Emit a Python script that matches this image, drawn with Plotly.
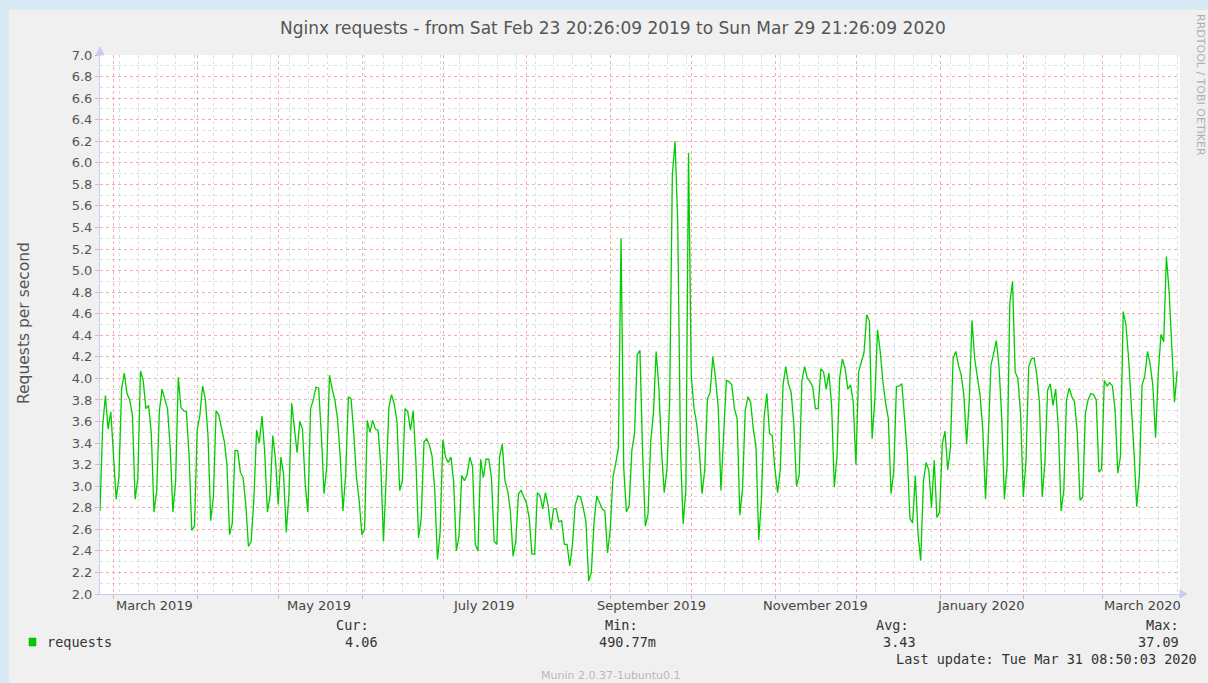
import plotly.graph_objects as go
import pandas as pd

# ---------------- data (daily averages) ----------------
TITLE = "Nginx requests - from Sat Feb 23 20:26:09 2019 to Sun Mar 29 21:26:09 2020"
RANGE_START = "2019-02-23 20:26:09"
RANGE_END = "2020-03-29 21:26:09"
FIRST_SAMPLE = "2019-02-23 20:26:09"

req_feb_apr_2019 = [2.77, 3.56, 3.84, 3.53, 3.69, 3.24, 2.88, 3.08, 3.90, 4.05,
                    3.86, 3.80, 3.66, 2.88, 3.07, 4.07, 3.98, 3.72, 3.75, 3.49,
                    2.76, 2.96, 3.70, 3.90, 3.81, 3.72, 3.36, 2.76, 3.04, 4.01,
                    3.73, 3.70, 3.69, 3.28, 2.59, 2.63, 3.52, 3.66, 3.93, 3.81,
                    3.47, 2.68, 2.90, 3.70, 3.66, 3.53, 3.42, 3.21, 2.55, 2.66,
                    3.33, 3.33]
req_apr_jun_2019 = [3.13, 3.08, 2.83, 2.44, 2.49, 2.88, 3.52, 3.40, 3.65, 3.32,
                    2.76, 2.91, 3.47, 3.25, 2.83, 3.27, 3.11, 2.57, 2.93, 3.77,
                    3.56, 3.31, 3.60, 3.53, 3.02, 2.76, 3.72, 3.80, 3.92, 3.91,
                    3.47, 2.93, 3.19, 4.03, 3.90, 3.80, 3.62, 3.27, 2.77, 3.11,
                    3.83, 3.81, 3.49, 3.08, 2.87, 2.55, 2.60, 3.61, 3.50, 3.61,
                    3.53, 3.52]
req_jun_jul_2019 = [3.20, 2.49, 3.07, 3.73, 3.85, 3.76, 3.60, 2.96, 3.05, 3.72,
                    3.69, 3.52, 3.70, 3.24, 2.52, 2.71, 3.41, 3.44, 3.38, 3.28,
                    2.96, 2.32, 2.58, 3.43, 3.27, 3.22, 3.27, 3.04, 2.40, 2.54,
                    3.10, 3.05, 3.11, 3.27, 3.18, 2.46, 2.40, 3.25, 3.08, 3.25,
                    3.25, 3.08, 2.49, 2.46, 3.27, 3.39, 3.05, 2.96, 2.77, 2.35,
                    2.49, 2.93]
req_jul_sep_2019 = [2.96, 2.90, 2.84, 2.70, 2.37, 2.37, 2.94, 2.91, 2.79, 2.94,
                    2.82, 2.60, 2.79, 2.79, 2.67, 2.68, 2.46, 2.46, 2.26, 2.46,
                    2.82, 2.91, 2.90, 2.80, 2.67, 2.12, 2.20, 2.67, 2.91, 2.85,
                    2.79, 2.77, 2.38, 2.60, 3.08, 3.21, 3.35, 5.30, 3.16, 2.76,
                    2.82, 3.33, 3.49, 4.22, 4.26, 3.30, 2.63, 2.74, 3.42, 3.68,
                    4.25, 3.92]
req_sep_nov_2019 = [3.33, 2.94, 3.16, 3.78, 5.89, 6.20, 5.44, 3.35, 2.65, 2.96,
                    6.09, 4.03, 3.73, 3.58, 3.33, 2.93, 3.15, 3.81, 3.87, 4.20,
                    4.00, 3.73, 2.96, 3.47, 3.98, 3.97, 3.94, 3.72, 3.63, 2.73,
                    2.98, 3.70, 3.83, 3.78, 3.53, 3.36, 2.50, 2.88, 3.64, 3.86,
                    3.49, 3.47, 3.16, 2.94, 3.16, 3.94, 4.11, 3.95, 3.87, 3.58,
                    3.00, 3.11]
req_nov_dec_2019 = [3.98, 4.11, 4.00, 3.97, 3.92, 3.72, 3.72, 4.09, 4.06, 3.90,
                    4.05, 3.75, 2.99, 3.29, 4.01, 4.18, 4.09, 3.90, 3.94, 3.78,
                    3.20, 4.06, 4.15, 4.24, 4.59, 4.53, 3.44, 3.80, 4.45, 4.25,
                    3.97, 3.77, 3.63, 2.93, 3.13, 3.92, 3.93, 3.95, 3.64, 3.30,
                    2.70, 2.66, 3.10, 2.56, 2.31, 3.04, 3.22, 3.15, 2.80, 3.24,
                    2.71, 2.76]
req_jan_feb_2020 = [3.39, 3.51, 3.15, 3.35, 4.19, 4.25, 4.12, 4.03, 3.84, 3.39,
                    3.81, 4.54, 4.18, 4.00, 3.84, 3.52, 2.88, 3.44, 4.12, 4.23,
                    4.35, 4.11, 3.64, 2.88, 3.19, 4.70, 4.90, 4.06, 4.00, 3.67,
                    2.90, 3.24, 4.11, 4.18, 4.19, 4.03, 3.77, 2.90, 3.22, 3.89,
                    3.95, 3.75, 3.90, 3.53, 2.77, 2.96, 3.80, 3.91, 3.83, 3.78,
                    3.49, 2.87]
req_feb_mar_2020 = [2.90, 3.68, 3.80, 3.86, 3.85, 3.80, 3.13, 3.16, 3.98, 3.93,
                    3.96, 3.93, 3.71, 3.12, 3.28, 4.62, 4.50, 4.19, 3.78, 3.32,
                    2.81, 3.10, 3.94, 4.02, 4.25, 4.13, 3.93, 3.45, 4.05, 4.41,
                    4.34, 5.13, 4.81, 4.24, 3.78, 4.07]

month_labels = ["March 2019", "May 2019", "July 2019", "September 2019",
                "November 2019", "January 2020", "March 2020"]
month_starts = ["2019-03-01", "2019-05-01", "2019-07-01", "2019-09-01",
                "2019-11-01", "2020-01-01", "2020-03-01"]

series_name = "requests"
stat_labels = ["Cur:", "Min:", "Avg:", "Max:"]
stat_values = ["4.06", "490.77m", "3.43", "37.09"]
y_title = "Requests per second"
last_update = "Last update: Tue Mar 31 08:50:03 2020"
footer = "Munin 2.0.37-1ubuntu0.1"
side_text = "RRDTOOL / TOBI OETIKER"

values = (req_feb_apr_2019 + req_apr_jun_2019 + req_jun_jul_2019 + req_jul_sep_2019
          + req_sep_nov_2019 + req_nov_dec_2019 + req_jan_feb_2020 + req_feb_mar_2020)
dates = pd.date_range(FIRST_SAMPLE, periods=len(values), freq="D")

# ---------------- layout helpers ----------------
W, H = 1208, 683
L, R, T, B = 100, 28, 55, 89
PW, PH = W - L - R, H - T - B


def px(x):
    return (x - L) / PW


def py(y):
    return (H - B - y) / PH


FONT = "DejaVu Sans"
MONO = "DejaVu Sans Mono"
TXT = "#555555"
MGRID = "rgba(240,140,140,0.7)"
GRID = "rgba(190,190,190,0.5)"
AXIS = "#c8ccf4"
MONO_SIZE = 13.5

fig = go.Figure()
fig.add_trace(go.Scatter(x=dates, y=values, mode="lines",
                         line=dict(color="#00cc00", width=1.3),
                         hoverinfo="skip", showlegend=False))

fig.update_layout(
    width=W, height=H,
    margin=dict(l=L, r=R, t=T, b=B),
    paper_bgcolor="#f0f0f0", plot_bgcolor="#ffffff",
    showlegend=False,
    font=dict(family=FONT, color=TXT, size=13),
)

fig.update_xaxes(
    type="date", range=[RANGE_START, RANGE_END],
    showgrid=True, gridcolor=MGRID, griddash="dot", gridwidth=1,
    dtick="M1", tick0="2019-03-01",
    ticks="outside", ticklen=4, tickcolor=MGRID,
    showticklabels=False,
    showline=True, linecolor=AXIS, linewidth=1, zeroline=False,
    minor=dict(dtick=7 * 86400000, tick0="2019-02-24", showgrid=True,
               gridcolor=GRID, griddash="dot", gridwidth=1),
)
fig.update_yaxes(
    range=[2, 7], dtick=0.2, tick0=2, tickformat=".1f",
    showgrid=True, gridcolor=MGRID, griddash="dot", gridwidth=1,
    ticks="outside", ticklen=4, tickcolor=MGRID,
    tickfont=dict(family=FONT, size=13, color=TXT),
    showline=True, linecolor=AXIS, linewidth=1, zeroline=False,
    minor=dict(dtick=0.1, showgrid=True, gridcolor=GRID, griddash="dot", gridwidth=1),
)

shapes = [
    # page frame bands
    dict(type="rect", xref="paper", yref="paper", x0=px(0), x1=px(9), y0=py(H), y1=py(0),
         fillcolor="#d8ebf4", line=dict(width=0), layer="below"),
    dict(type="rect", xref="paper", yref="paper", x0=px(0), x1=px(W), y0=py(10), y1=py(0),
         fillcolor="#d8ebf4", line=dict(width=0), layer="below"),
    # axis arrows
    dict(type="path", xref="paper", yref="paper",
         path=f"M {px(1180)} {py(590)} L {px(1187)} {py(594)} L {px(1180)} {py(598)} Z",
         fillcolor=AXIS, line=dict(color=AXIS, width=1)),
    dict(type="path", xref="paper", yref="paper",
         path=f"M {px(96)} {py(55)} L {px(100)} {py(47)} L {px(104)} {py(55)} Z",
         fillcolor=AXIS, line=dict(color=AXIS, width=1)),
    # legend colour box
    dict(type="rect", xref="paper", yref="paper", x0=px(29), x1=px(36), y0=py(646), y1=py(638),
         fillcolor="#00cc00", line=dict(color="#00aa00", width=0.5)),
]

ann = []
ann.append(dict(text=TITLE, x=px(613), y=py(28), xref="paper", yref="paper",
                showarrow=False, xanchor="center", yanchor="middle",
                font=dict(family=FONT, size=17, color=TXT)))
ann.append(dict(text=y_title, x=px(24), y=py(323), xref="paper", yref="paper",
                showarrow=False, textangle=-90, xanchor="center", yanchor="middle",
                font=dict(family=FONT, size=15.5, color=TXT)))
for lab, ms in zip(month_labels, month_starts):
    pos = pd.Timestamp(ms) + pd.Timedelta(days=15)
    ann.append(dict(text=lab, x=pos, y=py(605), xref="x", yref="paper",
                    showarrow=False, xanchor="center", yanchor="middle",
                    font=dict(family=FONT, size=13, color="#444444")))
ann.append(dict(text=series_name, x=px(45), y=py(642), xref="paper", yref="paper",
                showarrow=False, xanchor="left", yanchor="middle",
                font=dict(family=MONO, size=MONO_SIZE, color="#333333")))
label_right = [371, 640, 911, 1181]
value_right = [380, 658, 918, 1181]
for lab, val, lr, vr in zip(stat_labels, stat_values, label_right, value_right):
    ann.append(dict(text=lab, x=px(lr), y=py(625), xref="paper", yref="paper",
                    showarrow=False, xanchor="right", yanchor="middle",
                    font=dict(family=MONO, size=MONO_SIZE, color="#333333")))
    ann.append(dict(text=val, x=px(vr), y=py(642), xref="paper", yref="paper",
                    showarrow=False, xanchor="right", yanchor="middle",
                    font=dict(family=MONO, size=MONO_SIZE, color="#333333")))
ann.append(dict(text=last_update, x=px(1199), y=py(659), xref="paper", yref="paper",
                showarrow=False, xanchor="right", yanchor="middle",
                font=dict(family=MONO, size=MONO_SIZE, color="#333333")))
ann.append(dict(text=footer, x=px(611), y=py(675), xref="paper", yref="paper",
                showarrow=False, xanchor="center", yanchor="middle",
                font=dict(family=FONT, size=11, color="#b8b8b8")))
ann.append(dict(text=side_text, x=px(1200), y=py(85), xref="paper", yref="paper",
                showarrow=False, textangle=90, xanchor="center", yanchor="middle",
                font=dict(family=FONT, size=11, color="#b0b0b0")))

fig.update_layout(shapes=shapes, annotations=ann)
fig.write_html("out.html", config={"displayModeBar": False},
               post_script="document.body.style.margin='0';document.body.style.overflow='hidden';")
